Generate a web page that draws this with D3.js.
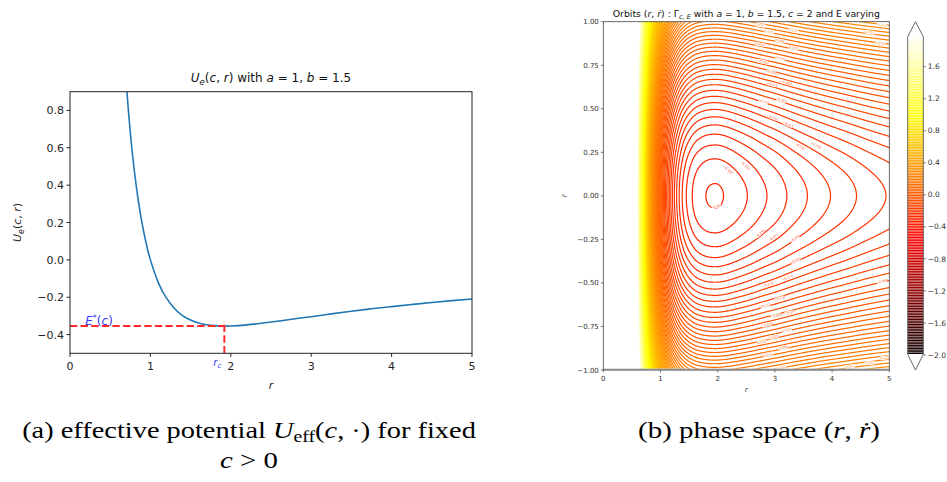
<!DOCTYPE html>
<html><head><meta charset="utf-8">
<script src="https://cdn.jsdelivr.net/npm/d3@7"></script>
<style>body{margin:0;background:#fff} svg{display:block}</style>
</head><body>
<svg id="chart" width="947" height="482"></svg>
<script>
// ---------- data ----------
const rSamples = [0.55,0.6,0.65,0.7,0.75,0.8,0.85,0.9,0.95,1.0,1.1,1.2,1.3,1.4,1.5,1.6,1.7,1.8,1.9,2.0,2.2,2.4,2.6,2.8,3.0,3.25,3.5,3.75,4.0,4.25,4.5,4.75,5.0];
const uSamples = [2.342,1.737,1.287,0.946,0.683,0.477,0.316,0.187,0.083,0.000,-0.123,-0.205,-0.260,-0.298,-0.322,-0.338,-0.347,-0.352,-0.354,-0.354,-0.348,-0.338,-0.327,-0.315,-0.304,-0.289,-0.275,-0.262,-0.250,-0.239,-0.228,-0.218,-0.209];
const rc = 1.92, Estar = -0.354;
const xTicksL = [0,1,2,3,4,5];
const yTicksL = [-0.4,-0.2,0.0,0.2,0.4,0.6,0.8];
const levelCount = 200, levelMin = -2, levelMax = 2;
const xTicksR = [0,1,2,3,4,5];
const yTicksR = [-1,-0.75,-0.5,-0.25,0,0.25,0.5,0.75,1];
const cbTicks = [-2,-1.6,-1.2,-0.8,-0.4,0,0.4,0.8,1.2,1.6];
// contour-label anchor points (r, rdot)
const labelR  = [2.74,2.90,3.32,4.66,4.87,2.74,3.09,3.33,4.84,2.79,3.09,2.94,3.19,2.95,2.80,3.11,2.96,3.23,3.44,3.72,2.48,2.18,1.98,2.74,2.97,3.35,3.36,3.22,2.88,4.87,3.09,2.83,3.26,3.02,2.86,3.21,2.97,2.77,3.15,2.88,3.11,4.31,4.66,4.92];
const labelRd = [0.98,0.94,0.95,0.94,0.98,0.87,0.89,0.85,0.87,0.77,0.79,0.71,0.65,0.64,0.54,0.55,0.45,0.41,0.285,0.29,0.176,0.15,-0.06,-0.216,-0.24,-0.245,-0.37,-0.47,-0.51,-0.49,-0.59,-0.63,-0.67,-0.69,-0.74,-0.77,-0.81,-0.84,-0.87,-0.91,-0.985,-0.98,-0.96,-0.93];

const svg = d3.select("#chart");
const minus = s => s.replace("-", "\u2212");
const SANS = "DejaVu Sans, sans-serif";
const SERIF = "Liberation Serif, DejaVu Serif, serif";

function naturalSpline(xs, ys){
  const n=xs.length, h=[], al=[], l=[1], mu=[0], z=[0], c=new Array(n).fill(0), b=[], d=[];
  for(let i=0;i<n-1;i++) h[i]=xs[i+1]-xs[i];
  for(let i=1;i<n-1;i++) al[i]=3/h[i]*(ys[i+1]-ys[i])-3/h[i-1]*(ys[i]-ys[i-1]);
  for(let i=1;i<n-1;i++){ l[i]=2*(xs[i+1]-xs[i-1])-h[i-1]*mu[i-1]; mu[i]=h[i]/l[i]; z[i]=(al[i]-h[i-1]*z[i-1])/l[i]; }
  for(let j=n-2;j>=0;j--){ c[j]=z[j]-mu[j]*c[j+1]; b[j]=(ys[j+1]-ys[j])/h[j]-h[j]*(c[j+1]+2*c[j])/3; d[j]=(c[j+1]-c[j])/(3*h[j]); }
  return x => { let i=d3.bisectRight(xs,x)-1; i=Math.max(0,Math.min(n-2,i)); const t=x-xs[i]; return ys[i]+b[i]*t+c[i]*t*t+d[i]*t*t*t; };
}
const U = naturalSpline(rSamples, uSamples);

function hot(t){
  t=Math.max(0,Math.min(1,t));
  const r = t<0.365079 ? 0.0416+(1-0.0416)*t/0.365079 : 1;
  const g = t<0.365079 ? 0 : (t<0.746032 ? (t-0.365079)/(0.746032-0.365079) : 1);
  const b = t<0.746032 ? 0 : (t-0.746032)/(1-0.746032);
  return d3.rgb(r*255,g*255,b*255).formatHex();
}
const levels = d3.range(levelCount).map(i => levelMin + i*(levelMax-levelMin)/(levelCount-1));
const norm = v => (v-levelMin)/(levelMax-levelMin);

// ---------- left panel ----------
const L = {x0:70, x1:472, y0:91.7, y1:353.3};
const xL = d3.scaleLinear().domain([0,5]).range([L.x0,L.x1]);
const yL = d3.scaleLinear().domain([-0.5,0.9]).range([L.y1,L.y0]);
svg.append("clipPath").attr("id","clipL").append("rect")
  .attr("x",L.x0).attr("y",L.y0).attr("width",L.x1-L.x0).attr("height",L.y1-L.y0);

const gL = svg.append("g");
gL.append("g").attr("clip-path","url(#clipL)").append("path")
  .datum(rSamples.map((r,i)=>[r,uSamples[i]]))
  .attr("d", d3.line().x(d=>xL(d[0])).y(d=>yL(d[1])).curve(d3.curveNatural))
  .attr("fill","none").attr("stroke","#1f77b4").attr("stroke-width",1.6);

gL.append("line").attr("x1",xL(0)).attr("x2",xL(rc)).attr("y1",yL(Estar)).attr("y2",yL(Estar))
  .attr("stroke","#ff2a2a").attr("stroke-width",2).attr("stroke-dasharray","7.4,3.2");
gL.append("line").attr("x1",xL(rc)).attr("x2",xL(rc)).attr("y1",yL(-0.5)).attr("y2",yL(Estar+0.025))
  .attr("stroke","#ff2a2a").attr("stroke-width",2).attr("stroke-dasharray","7.4,3.2");

gL.append("rect").attr("x",L.x0).attr("y",L.y0).attr("width",L.x1-L.x0).attr("height",L.y1-L.y0)
  .attr("fill","none").attr("stroke","#222").attr("stroke-width",1);
xTicksL.forEach(t=>{
  gL.append("line").attr("x1",xL(t)).attr("x2",xL(t)).attr("y1",L.y1).attr("y2",L.y1+3.5).attr("stroke","#222");
  gL.append("text").attr("x",xL(t)).attr("y",L.y1+17).attr("text-anchor","middle")
    .attr("font-family",SANS).attr("font-size",11).attr("fill","#262626").text(String(t));
});
yTicksL.forEach(t=>{
  gL.append("line").attr("x1",L.x0-3.5).attr("x2",L.x0).attr("y1",yL(t)).attr("y2",yL(t)).attr("stroke","#222");
  gL.append("text").attr("x",L.x0-6).attr("y",yL(t)+4).attr("text-anchor","end")
    .attr("font-family",SANS).attr("font-size",11).attr("fill","#262626").text(minus(t.toFixed(1)));
});
const tL = gL.append("text").attr("x",(L.x0+L.x1)/2).attr("y",82).attr("text-anchor","middle")
  .attr("font-family",SANS).attr("font-size",12).attr("fill","#111");
tL.append("tspan").attr("font-style","italic").text("U");
tL.append("tspan").attr("font-style","italic").attr("font-size",8.5).attr("dy",2.5).text("e");
tL.append("tspan").attr("dy",-2.5).text("(");
tL.append("tspan").attr("font-style","italic").text("c");
tL.append("tspan").text(", ");
tL.append("tspan").attr("font-style","italic").text("r");
tL.append("tspan").text(") with ");
tL.append("tspan").attr("font-style","italic").text("a");
tL.append("tspan").text(" = 1, ");
tL.append("tspan").attr("font-style","italic").text("b");
tL.append("tspan").text(" = 1.5");
const yl = gL.append("text").attr("transform",`translate(21,${(L.y0+L.y1)/2}) rotate(-90)`)
  .attr("text-anchor","middle").attr("font-family",SANS).attr("font-size",11).attr("fill","#262626");
yl.append("tspan").attr("font-style","italic").text("U");
yl.append("tspan").attr("font-style","italic").attr("font-size",8).attr("dy",2.5).text("e");
yl.append("tspan").attr("dy",-2.5).text("(");
yl.append("tspan").attr("font-style","italic").text("c");
yl.append("tspan").text(", ");
yl.append("tspan").attr("font-style","italic").text("r");
yl.append("tspan").text(")");
gL.append("text").attr("x",(L.x0+L.x1)/2).attr("y",389).attr("text-anchor","middle")
  .attr("font-family",SANS).attr("font-size",11).attr("font-style","italic").attr("fill","#262626").text("r");
const eL = gL.append("text").attr("x",xL(0.19)).attr("y",yL(Estar)-1.5)
  .attr("font-family",SANS).attr("font-size",12).attr("fill","#3b3bff");
eL.append("tspan").attr("font-style","italic").text("E");
eL.append("tspan").attr("font-size",8).attr("dy",-4).text("*");
eL.append("tspan").attr("dy",4).text("(");
eL.append("tspan").attr("font-style","italic").text("c");
eL.append("tspan").text(")");
const rL = gL.append("text").attr("x",xL(rc)-11).attr("y",L.y1+13)
  .attr("font-family",SANS).attr("font-size",10).attr("fill","#3b3bff");
rL.append("tspan").attr("font-style","italic").text("r");
rL.append("tspan").attr("font-style","italic").attr("font-size",7).attr("dy",2).text("c");

// ---------- right panel ----------
const R = {x0:603.3, x1:889.3, y0:21.7, y1:370};
const xR = d3.scaleLinear().domain([0,5]).range([R.x0,R.x1]);
const yR = d3.scaleLinear().domain([-1,1]).range([R.y1,R.y0]);
svg.append("clipPath").attr("id","clipR").append("rect")
  .attr("x",R.x0).attr("y",R.y0).attr("width",R.x1-R.x0).attr("height",R.y1-R.y0);

const r0=-0.05, dr=0.005, nx=1021, v0=-1.02, dv=0.008, ny=256;
const Ucol = new Float64Array(nx);
for(let i=0;i<nx;i++){ const r=r0+i*dr; Ucol[i] = r<rSamples[0] ? 10 : U(r); }
const field = new Float64Array(nx*ny);
let fmin=Infinity;
for(let j=0;j<ny;j++){ const v=v0+j*dv; for(let i=0;i<nx;i++){ const e=v*v/2+Ucol[i]; field[j*nx+i]=e; if(e<fmin) fmin=e; } }
const useLevels = levels.filter(l => l>fmin);
const contours = d3.contours().size([nx,ny]).thresholds(useLevels)(field);
const proj = d3.geoTransform({point(x,y){ this.stream.point(xR(r0+(x-0.5)*dr), yR(v0+(y-0.5)*dv)); }});
const pathR = d3.geoPath(proj);
const gR = svg.append("g");
const gClip = gR.append("g").attr("clip-path","url(#clipR)");
gClip.selectAll("path").data(contours).join("path")
  .attr("d", pathR).attr("fill","none").attr("stroke", d=>hot(norm(d.value))).attr("stroke-width",1.2);

const sx = 286/5, sy = 348.3/2;
labelR.forEach((r,i)=>{
  const rd = labelRd[i];
  const e = rd*rd/2 + U(r);
  const lev = levels.reduce((a,b)=>Math.abs(b-e)<Math.abs(a-e)?b:a);
  const dU = (U(r+0.001)-U(r-0.001))/0.002;
  const gx = dU/sx, gy = -rd/sy;
  let ang = Math.atan2(gx, -gy)*180/Math.PI;
  if (ang>90) ang-=180; if (ang<-90) ang+=180;
  const g = gClip.append("g").attr("transform",`translate(${xR(r)},${yR(rd)}) rotate(${ang})`);
  g.append("rect").attr("x",-5).attr("y",-1.9).attr("width",10).attr("height",3.8).attr("fill","#fff");
  g.append("text").attr("x",0).attr("y",1.1).attr("text-anchor","middle").attr("font-family",SANS)
    .attr("font-size",3.2).attr("fill",hot(norm(lev))).text(minus(d3.format(".3f")(lev)));
});

gR.append("line").attr("x1",R.x0).attr("x2",R.x1).attr("y1",R.y1-0.5).attr("y2",R.y1-0.5).attr("stroke","#bdbdbd").attr("stroke-width",2);
gR.append("rect").attr("x",R.x0).attr("y",R.y0).attr("width",R.x1-R.x0).attr("height",R.y1-R.y0)
  .attr("fill","none").attr("stroke","#444").attr("stroke-width",0.8);
xTicksR.forEach(t=>{
  gR.append("line").attr("x1",xR(t)).attr("x2",xR(t)).attr("y1",R.y1).attr("y2",R.y1+2.5).attr("stroke","#444").attr("stroke-width",0.7);
  gR.append("text").attr("x",xR(t)).attr("y",R.y1+11).attr("text-anchor","middle")
    .attr("font-family",SANS).attr("font-size",7).attr("fill","#333").text(String(t));
});
yTicksR.forEach(t=>{
  gR.append("line").attr("x1",R.x0-2.5).attr("x2",R.x0).attr("y1",yR(t)).attr("y2",yR(t)).attr("stroke","#444").attr("stroke-width",0.7);
  gR.append("text").attr("x",R.x0-4.5).attr("y",yR(t)+2.5).attr("text-anchor","end")
    .attr("font-family",SANS).attr("font-size",7).attr("fill","#333").text(minus(t.toFixed(2)));
});
gR.append("text").attr("x",(R.x0+R.x1)/2).attr("y",392).attr("text-anchor","middle")
  .attr("font-family",SANS).attr("font-size",7).attr("font-style","italic").attr("fill","#333").text("r");
gR.append("text").attr("transform",`translate(567,${yR(0)}) rotate(-90)`).attr("text-anchor","middle")
  .attr("font-family",SANS).attr("font-size",7).attr("font-style","italic").attr("fill","#333").text("\u1E59");
const tR = gR.append("text").attr("x",(R.x0+R.x1)/2).attr("y",17).attr("text-anchor","middle")
  .attr("font-family",SANS).attr("font-size",9.3).attr("fill","#111");
tR.append("tspan").text("Orbits (");
tR.append("tspan").attr("font-style","italic").text("r");
tR.append("tspan").text(", ");
tR.append("tspan").attr("font-style","italic").text("\u1E59");
tR.append("tspan").text(") : \u0393");
tR.append("tspan").attr("font-style","italic").attr("font-size",6.5).attr("dy",2).text("c, E");
tR.append("tspan").attr("dy",-2).text(" with ");
tR.append("tspan").attr("font-style","italic").text("a");
tR.append("tspan").text(" = 1, ");
tR.append("tspan").attr("font-style","italic").text("b");
tR.append("tspan").text(" = 1.5, ");
tR.append("tspan").attr("font-style","italic").text("c");
tR.append("tspan").text(" = 2 and E varying");

// ---------- colorbar ----------
const C = {x0:907.7, x1:923.3, y0:36.7, y1:354.3};
const yC = d3.scaleLinear().domain([-2,1.6]).range([355,66.7]);
const gC = svg.append("g");
gC.append("rect").attr("x",C.x0).attr("y",C.y0).attr("width",C.x1-C.x0).attr("height",C.y1-C.y0).attr("fill","#fff");
levels.filter(l => yC(l)>=C.y0 && yC(l)<=C.y1+0.6).forEach(l=>{
  gC.append("line").attr("x1",C.x0).attr("x2",C.x1).attr("y1",yC(l)).attr("y2",yC(l))
    .attr("stroke",hot(norm(l))).attr("stroke-width",1.25);
});
gC.append("path").attr("d",`M${C.x0},${C.y0} L${(C.x0+C.x1)/2},${R.y0} L${C.x1},${C.y0} L${C.x1},${C.y1} L${(C.x0+C.x1)/2},${R.y1} L${C.x0},${C.y1} Z`)
  .attr("fill","none").attr("stroke","#444").attr("stroke-width",0.8);
cbTicks.forEach(t=>{
  gC.append("line").attr("x1",C.x1).attr("x2",C.x1+2.5).attr("y1",yC(t)).attr("y2",yC(t)).attr("stroke","#444").attr("stroke-width",0.7);
  gC.append("text").attr("x",C.x1+4.5).attr("y",yC(t)+2.6).attr("font-family",SANS).attr("font-size",7.5)
    .attr("fill","#333").text(minus(t.toFixed(1)));
});

// ---------- captions (horizontally stretched to the reference widths) ----------
function caption(cx, y, targetW, build){
  const g = svg.append("g");
  const t = g.append("text").attr("x",0).attr("y",0).attr("text-anchor","middle")
    .attr("font-family",SERIF).attr("font-size",23).attr("fill","#000");
  build(t);
  const w = t.node().getComputedTextLength();
  const k = targetW ? targetW/w : 1.2;
  g.attr("transform",`translate(${cx},${y}) scale(${k},1)`);
}
caption(249, 438, 454, t=>{
  t.append("tspan").text("(a) effective potential ");
  t.append("tspan").attr("font-style","italic").text("U");
  t.append("tspan").attr("font-size",16).attr("dy",4).text("eff");
  t.append("tspan").attr("dy",-4).text("(");
  t.append("tspan").attr("font-style","italic").text("c");
  t.append("tspan").text(", \u00B7) for fixed");
});
caption(249, 468, 58, t=>{
  t.append("tspan").attr("font-style","italic").text("c");
  t.append("tspan").text(" > 0");
});
caption(759, 438, 242, t=>{
  t.append("tspan").text("(b) phase space (");
  t.append("tspan").attr("font-style","italic").text("r");
  t.append("tspan").text(", ");
  t.append("tspan").attr("font-style","italic").text("\u1E59");
  t.append("tspan").text(")");
});
</script>
</body></html>
